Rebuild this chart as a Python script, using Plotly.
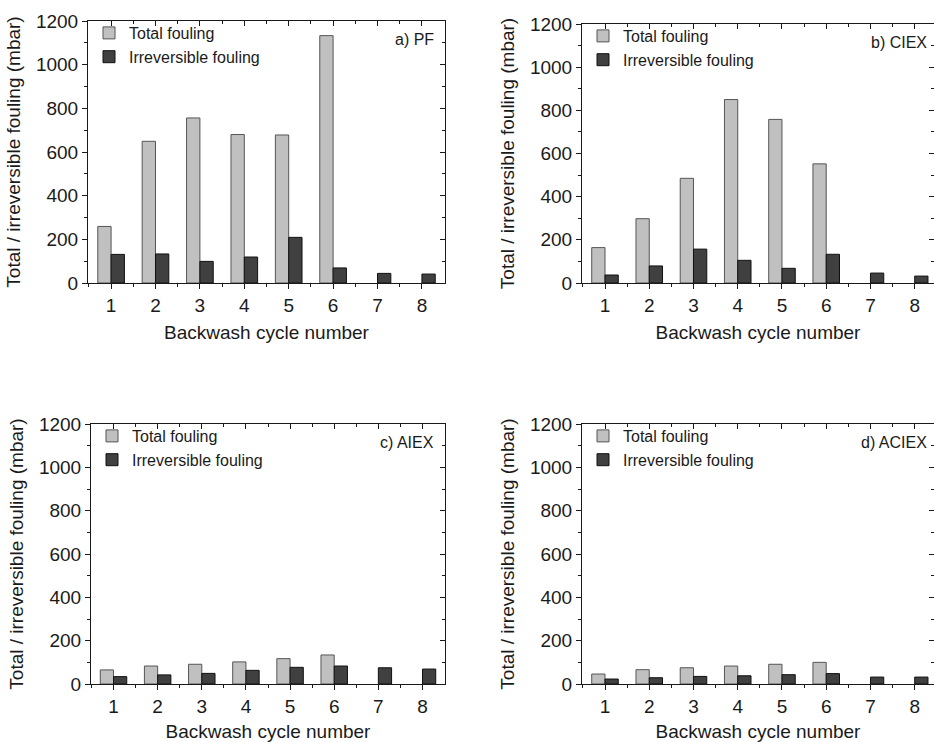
import plotly.graph_objects as go

# Backwash cycles and fouling (mbar) for each pretreatment
cycles = [1, 2, 3, 4, 5, 6, 7, 8]
total_cycles = [1, 2, 3, 4, 5, 6]

pf_total = [259, 649, 756, 680, 678, 1133]
pf_irrev = [131, 133, 99, 119, 209, 69, 44, 41]

ciex_total = [164, 298, 485, 850, 758, 552]
ciex_irrev = [37, 79, 157, 105, 68, 133, 46, 32]

aiex_total = [65, 83, 91, 102, 117, 134]
aiex_irrev = [34, 42, 49, 63, 77, 83, 75, 69]

aciex_total = [46, 66, 75, 83, 91, 100]
aciex_irrev = [23, 29, 35, 38, 43, 48, 32, 32]

panel_labels = ["a) PF", "b) CIEX", "c) AIEX", "d) ACIEX"]
series = [(pf_total, pf_irrev), (ciex_total, ciex_irrev),
          (aiex_total, aiex_irrev), (aciex_total, aciex_irrev)]

W, H = 934, 742
FONT = "Liberation Sans, Arial, sans-serif"
INK = "#1a1a1a"
BAR_W = 0.3

# plot-area boxes in pixels: (left, right, top, bottom), plus x range
boxes = [
    (88, 445, 21, 283, [0.48, 8.52]),
    (582, 934, 24, 283, [0.48, 8.436]),
    (91, 445, 424, 684, [0.49, 8.51]),
    (582, 934, 424, 684, [0.48, 8.436]),
]

fig = go.Figure()

for i, ((tot, irr), label, box) in enumerate(zip(series, panel_labels, boxes)):
    n = i + 1
    sfx = "" if n == 1 else str(n)
    xa, ya = f"x{sfx}", f"y{sfx}"
    xb, yb = f"x{n + 4}", f"y{n + 4}"
    leg = f"legend{sfx}"

    # total fouling sits left of each cycle, irreversible fouling to the right
    fig.add_trace(go.Bar(
        x=total_cycles, y=tot, name="Total fouling", xaxis=xa, yaxis=ya,
        width=BAR_W, offset=-BAR_W,
        marker=dict(color="#c0c0c0", line=dict(color="#555555", width=1)),
        legend=leg,
    ))
    fig.add_trace(go.Bar(
        x=cycles, y=irr, name="Irreversible fouling", xaxis=xb, yaxis=yb,
        width=BAR_W, offset=0,
        marker=dict(color="#404040", line=dict(color="#111111", width=1)),
        legend=leg,
    ))

    left, right, top, bottom, xr = box
    xdom = [left / W, right / W]
    ydom = [1 - bottom / H, 1 - top / H]

    common = dict(showgrid=False, zeroline=False, automargin=False,
                  linecolor=INK, linewidth=1, tickcolor=INK)
    half_ticks = [0.5] + [c + 0.5 for c in cycles[:-1]]

    fig.layout[f"xaxis{sfx}"] = dict(
        domain=xdom, anchor=ya, range=xr, tickmode="array", tickvals=cycles,
        ticks="outside", ticklen=5, showline=True,
        minor=dict(tickmode="array", tickvals=half_ticks,
                   ticks="outside", ticklen=3, tickcolor=INK),
        tickfont=dict(size=19, color=INK, family=FONT),
        title=dict(text="Backwash cycle number",
                   font=dict(size=19, color=INK, family=FONT), standoff=10),
        **common,
    )
    fig.layout[f"yaxis{sfx}"] = dict(
        domain=ydom, anchor=xa, range=[0, 1200], dtick=200, tick0=0,
        ticks="outside", ticklen=5, showline=True,
        minor=dict(dtick=100, ticks="outside", ticklen=3, tickcolor=INK),
        tickfont=dict(size=19, color=INK, family=FONT),
        title=dict(text="Total / irreversible fouling (mbar)",
                   font=dict(size=19, color=INK, family=FONT), standoff=10),
        **common,
    )

    # top and right frame edges carry inward ticks
    fig.layout[f"xaxis{n + 4}"] = dict(
        overlaying=xa, side="top", anchor=yb, range=xr, tickmode="array",
        tickvals=cycles, ticks="inside", ticklen=5, showticklabels=False,
        showline=True,
        minor=dict(tickmode="array", tickvals=half_ticks,
                   ticks="inside", ticklen=3, tickcolor=INK),
        **common,
    )
    fig.layout[f"yaxis{n + 4}"] = dict(
        overlaying=ya, side="right", anchor=xb, range=[0, 1200], dtick=200,
        tick0=0, ticks="inside", ticklen=5, showticklabels=False,
        showline=(n % 2 == 1),
        minor=dict(dtick=100, ticks="inside", ticklen=3, tickcolor=INK),
        **common,
    )

    fig.layout[leg] = dict(
        x=xdom[0] + 1 / W, y=ydom[1] + 5 / H, xanchor="left", yanchor="top",
        bgcolor="rgba(0,0,0,0)", borderwidth=0, tracegroupgap=0,
        font=dict(size=16, color=INK, family=FONT), itemwidth=30,
    )

    fig.add_annotation(
        text=label, xref="paper", yref="paper",
        x=(right - 9) / W if n % 2 == 1 else 929 / W,
        y=ydom[1] - 19 / H, xanchor="right", yanchor="middle", showarrow=False,
        font=dict(size=16, color=INK, family=FONT),
    )

fig.update_layout(
    template="none",
    width=W, height=H, margin=dict(l=0, r=0, t=0, b=0, pad=0),
    paper_bgcolor="white", plot_bgcolor="white",
    barmode="overlay",
    font=dict(family=FONT, color=INK),
)

fig.write_html("out.html")
